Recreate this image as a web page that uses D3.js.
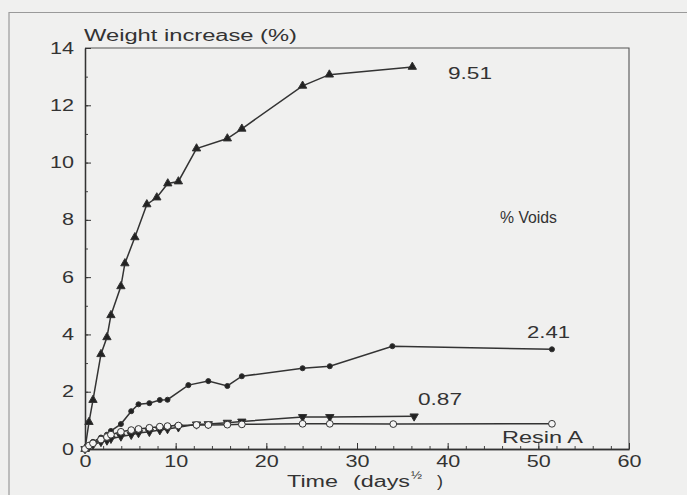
<!DOCTYPE html>
<html>
<head>
<meta charset="utf-8">
<script src="https://cdn.jsdelivr.net/npm/d3@7"></script>
<style>
  body { margin: 0; background: #f0f0ef; }
  svg { display: block; }
  text { font-family: "Liberation Sans", Arial, sans-serif; fill: #333; }
</style>
</head>
<body>
<div id="chart"></div>
<script>
let dim = {
    'width': 687,
    'height': 495,
    'left': 85,
    'right': 629,
    'top': 48,
    'bottom': 449
};

// data (x = time in days^1/2, y = weight increase %)
let voids951X = [0, 0.44, 0.88, 1.76, 2.42, 2.86, 3.96, 4.4, 5.5, 6.82, 7.92, 9.13, 10.3, 12.3, 15.7, 17.3, 24.0, 26.95, 36.1];
let voids951Y = [0, 0.94, 1.71, 3.31, 3.9, 4.67, 5.68, 6.48, 7.39, 8.54, 8.78, 9.27, 9.34, 10.49, 10.84, 11.18, 12.68, 13.07, 13.34];

let voids241X = [0, 0.44, 0.88, 1.76, 2.42, 2.86, 3.96, 5.1, 5.9, 7.1, 8.25, 9.1, 11.4, 13.6, 15.7, 17.3, 24.0, 27.0, 33.9, 51.5];
let voids241Y = [0, 0.12, 0.25, 0.4, 0.5, 0.63, 0.87, 1.32, 1.56, 1.6, 1.71, 1.72, 2.23, 2.37, 2.2, 2.54, 2.82, 2.89, 3.59, 3.48];

let voids087X = [0, 0.44, 0.88, 1.76, 2.42, 2.86, 3.96, 5.1, 5.9, 7.1, 8.25, 9.1, 10.3, 12.3, 13.6, 15.7, 17.3, 24.0, 27.0, 36.3];
let voids087Y = [0, 0.08, 0.15, 0.25, 0.3, 0.36, 0.44, 0.5, 0.56, 0.6, 0.66, 0.7, 0.76, 0.86, 0.87, 0.92, 0.96, 1.12, 1.12, 1.14];

let resinAX = [0, 0.44, 0.88, 1.76, 2.42, 2.86, 3.96, 5.1, 5.9, 7.1, 8.25, 9.1, 10.3, 12.3, 13.6, 15.7, 17.3, 24.0, 27.0, 34.0, 51.5];
let resinAY = [0, 0.12, 0.2, 0.33, 0.42, 0.5, 0.6, 0.66, 0.7, 0.74, 0.78, 0.8, 0.82, 0.84, 0.84, 0.85, 0.86, 0.88, 0.88, 0.87, 0.88];

let xTicks = [0, 10, 20, 30, 40, 50, 60];
let yTicks = [0, 2, 4, 6, 8, 10, 12, 14];

let seriesLabels = ['9.51', '2.41', '0.87', 'Resin A'];

let svg = d3.select('#chart').append('svg')
    .attr('width', dim.width)
    .attr('height', dim.height);

// outer frame of the figure (only top and left show in the picture)
svg.append('path')
    .attr('d', 'M9,' + dim.height + 'V12.5H' + dim.width)
    .attr('fill', 'none')
    .attr('stroke', '#9a9a9a')
    .attr('stroke-width', 1.2);

let scaleX = d3.scaleLinear()
    .domain([0, 60])
    .range([dim.left, dim.right]);

let scaleY = d3.scaleLinear()
    .domain([0, 14])
    .range([dim.bottom, dim.top]);

// plot box: top and right
svg.append('path')
    .attr('d', 'M' + dim.left + ',' + dim.top + 'H' + dim.right + 'V' + dim.bottom)
    .attr('fill', 'none')
    .attr('stroke', '#555')
    .attr('stroke-width', 1.1);

// minor ticks
svg.append('g')
    .attr('transform', 'translate(0,' + dim.bottom + ')')
    .attr('color', '#444')
    .call(d3.axisBottom(scaleX).tickValues(d3.range(0, 61, 2)).tickSize(-3).tickSizeOuter(0).tickFormat(''));

svg.append('g')
    .attr('transform', 'translate(' + dim.left + ',0)')
    .attr('color', '#444')
    .call(d3.axisLeft(scaleY).tickValues(d3.range(0, 15, 1)).tickSize(-3).tickSizeOuter(0).tickFormat(''));

let axisX = svg.append('g')
    .attr('transform', 'translate(0,' + dim.bottom + ')')
    .attr('color', '#333')
    .call(d3.axisBottom(scaleX).tickValues(xTicks).tickSize(-6).tickSizeOuter(0).tickPadding(7));

let axisY = svg.append('g')
    .attr('transform', 'translate(' + dim.left + ',0)')
    .attr('color', '#333')
    .call(d3.axisLeft(scaleY).tickValues(yTicks).tickSize(-6).tickSizeOuter(0).tickPadding(11));

svg.selectAll('.domain').attr('stroke-width', 1.3);
// the scan's lettering is wide set, so stretch each label to its measured width
svg.selectAll('.tick text')
    .filter(function() { return this.textContent !== ''; })
    .attr('font-size', 16)
    .attr('font-family', '"Liberation Sans", Arial, sans-serif')
    .attr('fill', '#333')
    .attr('textLength', function() { return this.textContent.length * 12; })
    .attr('lengthAdjust', 'spacingAndGlyphs');

let line = d3.line()
    .x(d => scaleX(d[0]))
    .y(d => scaleY(d[1]));

function zipXY(xs, ys) {
    return xs.map((x, i) => [x, ys[i]]);
}

let series = [
    {name: seriesLabels[0], pts: zipXY(voids951X, voids951Y), shape: d3.symbolTriangle, size: 30, rot: 0, fill: '#222'},
    {name: seriesLabels[1], pts: zipXY(voids241X, voids241Y), shape: d3.symbolCircle, size: 20, rot: 0, fill: '#222'},
    {name: seriesLabels[2], pts: zipXY(voids087X, voids087Y), shape: d3.symbolTriangle, size: 30, rot: 180, fill: '#222'},
    {name: seriesLabels[3], pts: zipXY(resinAX, resinAY), shape: d3.symbolCircle, size: 36, rot: 0, fill: '#f4f4f4'}
];

series.forEach(s => {
    svg.append('path')
        .datum(s.pts)
        .attr('d', line)
        .attr('fill', 'none')
        .attr('stroke', '#333')
        .attr('stroke-width', 1.5);
});

series.forEach(s => {
    svg.append('g').selectAll('path')
        .data(s.pts)
        .join('path')
        .attr('d', d3.symbol().type(s.shape).size(s.size))
        .attr('transform', d => 'translate(' + scaleX(d[0]) + ',' + scaleY(d[1]) + ') rotate(' + s.rot + ')')
        .attr('fill', s.fill)
        .attr('stroke', '#333')
        .attr('stroke-width', 1);
});

// texts: [text, x, y, width]
let labels = [
    ['Weight increase (%)', 84, 41, 213],
    [seriesLabels[0], 448, 79, 44],
    ['% Voids', 500, 223, 57],
    [seriesLabels[1], 527, 338, 43],
    [seriesLabels[2], 418, 405, 44],
    [seriesLabels[3], 502, 443, 81],
    ['Time', 287, 487, 51],
    ['(days', 353, 487, 57],
    [')', 437, 487, 6]
];

svg.selectAll('text.label')
    .data(labels)
    .join('text')
    .attr('class', 'label')
    .attr('x', d => d[1])
    .attr('y', d => d[2])
    .attr('font-size', 16)
    .attr('textLength', d => d[3])
    .attr('lengthAdjust', 'spacingAndGlyphs')
    .text(d => d[0]);

svg.append('text')
    .attr('x', 411).attr('y', 479)
    .attr('font-size', 11)
    .attr('textLength', 11)
    .attr('lengthAdjust', 'spacingAndGlyphs')
    .text('½');
</script>
</body>
</html>
